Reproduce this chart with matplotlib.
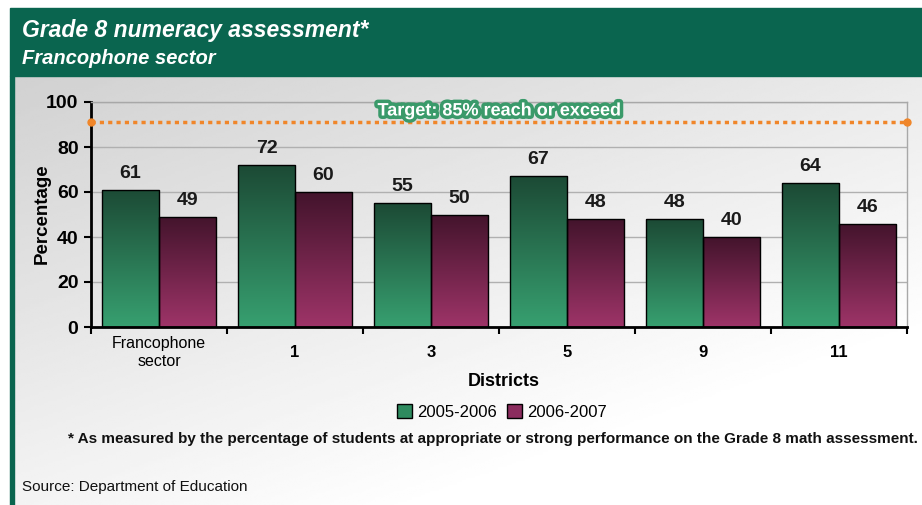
import numpy as np
import matplotlib
matplotlib.use("Agg")
import matplotlib.pyplot as plt
from matplotlib.patches import Rectangle, Patch
from matplotlib.colors import LinearSegmentedColormap
import matplotlib.patheffects as pe

categories = ["Francophone\nsector", "1", "3", "5", "9", "11"]
series_names = ["2005-2006", "2006-2007"]
values_2005 = [61, 72, 55, 67, 48, 64]
values_2006 = [49, 60, 50, 48, 40, 46]
target_value = 91  # drawn position of the target line in the picture
target_label = "Target: 85% reach or exceed"
yticks = [0, 20, 40, 60, 80, 100]

title = "Grade 8 numeracy assessment*"
subtitle = "Francophone sector"
footnote = "* As measured by the percentage of students at appropriate or strong performance on the Grade 8 math assessment."
source = "Source: Department of Education"

plt.rcParams['font.family'] = ['Liberation Sans', 'DejaVu Sans']

W, H = 922, 505
fig = plt.figure(figsize=(W / 100, H / 100), dpi=100)
fig.patch.set_facecolor("white")

def fx(px):
    return px / W

def fy(py):
    return 1 - py / H

header_col = "#0a654f"
# background panel gradient
bg = fig.add_axes([fx(14), 0, fx(922) - fx(14), fy(76)], zorder=-10)
gx = np.linspace(0, 1, 200)
gy = np.linspace(0, 1, 200)
GX, GY = np.meshgrid(gx, gy)
shade = 0.82 + 0.18 * np.clip(0.55 * GX + 0.75 * GY, 0, 1)
bg.imshow(shade, cmap="gray", vmin=0, vmax=1, aspect="auto", origin="upper",
          extent=[0, 1, 0, 1])
bg.set_axis_off()

fig.patches.append(Rectangle((fx(10), fy(76)), 1 - fx(10), fy(8) - fy(76),
                             transform=fig.transFigure, color=header_col, zorder=-5))
fig.patches.append(Rectangle((fx(10), 0), fx(14) - fx(10), fy(76),
                             transform=fig.transFigure, color=header_col, zorder=-5))

fig.text(fx(22), fy(31), title, color="white", fontsize=16.5, fontweight="bold",
         fontstyle="italic", va="center", ha="left")
fig.text(fx(22), fy(58), subtitle, color="white", fontsize=14.5, fontweight="bold",
         fontstyle="italic", va="center", ha="left")

ax = fig.add_axes([fx(91), fy(327), fx(907) - fx(91), fy(102) - fy(327)])
ax.set_facecolor("none")
x = np.arange(len(categories))
bw = 0.42
green_cmap = LinearSegmentedColormap.from_list("g", ["#37a070", "#1c4a35"])
maroon_cmap = LinearSegmentedColormap.from_list("m", ["#9e3468", "#43142c"])

bars1 = ax.bar(x - bw / 2, values_2005, bw, facecolor="none", edgecolor="black",
               linewidth=1.0, zorder=3)
bars2 = ax.bar(x + bw / 2, values_2006, bw, facecolor="none", edgecolor="black",
               linewidth=1.0, zorder=3)
grad = np.linspace(0, 1, 256).reshape(-1, 1)
for bars, cmap in ((bars1, green_cmap), (bars2, maroon_cmap)):
    for b in bars:
        x0, y0 = b.get_x(), b.get_y()
        w, h = b.get_width(), b.get_height()
        im = ax.imshow(grad, cmap=cmap, aspect="auto", origin="lower",
                       extent=[x0, x0 + w, y0, y0 + h], zorder=2)
        im.set_clip_path(b)

for bars, vals in ((bars1, values_2005), (bars2, values_2006)):
    for b, v in zip(bars, vals):
        ax.text(b.get_x() + b.get_width() / 2, v + 3.5, f"{v}", ha="center",
                va="bottom", fontsize=14, fontweight="bold", color="#1a1a1a",
                fontstretch="condensed", family=["Liberation Sans Narrow", "Liberation Sans"])

ax.set_xlim(-0.5, len(categories) - 0.5)
ax.set_ylim(0, 100)
ax.set_yticks(yticks)
ax.set_yticklabels([str(t) for t in yticks], fontsize=14, fontweight="bold")
ax.yaxis.grid(True, color="#b0b0b0", linewidth=1.0, zorder=0)
ax.set_axisbelow(True)
ax.tick_params(axis="y", length=5, width=1.5, direction="out", pad=4)

ax.set_xticks(np.arange(len(categories) + 1) - 0.5, minor=False)
ax.set_xticklabels([])
ax.set_xticks(x, minor=True)
ax.set_xticklabels(categories, minor=True)
for i, lbl in enumerate(ax.get_xticklabels(minor=True)):
    lbl.set_verticalalignment("center")
    if i == 0:
        lbl.set_fontsize(11.5)
        lbl.set_fontweight("normal")
    else:
        lbl.set_fontsize(12)
        lbl.set_fontweight("bold")
ax.tick_params(axis="x", which="major", length=5, width=1.5, direction="out")
ax.tick_params(axis="x", which="minor", length=0, pad=18.5)

for s in ("left", "bottom"):
    ax.spines[s].set_linewidth(2.0)
    ax.spines[s].set_color("black")
for s in ("top", "right"):
    ax.spines[s].set_linewidth(1.0)
    ax.spines[s].set_color("#a8a8a8")

fig.text(fx(42), fy(214), "Percentage", rotation=90, ha="center", va="center",
         fontsize=13.5, fontweight="bold")
fig.text(fx(504), fy(382), "Districts", ha="center", va="center",
         fontsize=13, fontweight="bold")

# target line
ax.plot([-0.5, len(categories) - 0.5], [target_value, target_value], color="#f0862a",
        linestyle=(0, (1.2, 1.2)), linewidth=2.5, zorder=4, clip_on=False)
ax.plot([-0.5, len(categories) - 0.5], [target_value, target_value], "o",
        color="#f0862a", markersize=5, zorder=5, clip_on=False)
ax.text(2.5, target_value + 5, target_label, ha="center", va="center",
        fontsize=13, fontweight="bold", color="white", zorder=6,
        path_effects=[pe.Stroke(linewidth=5, foreground="#3a9a6a"), pe.Normal()])

handles = [Patch(facecolor="#2e8b5f", edgecolor="black", label=series_names[0]),
           Patch(facecolor="#8b2c5e", edgecolor="black", label=series_names[1])]
fig.legend(handles=handles, loc="center", bbox_to_anchor=(fx(502), fy(412)), ncol=2,
           frameon=False, fontsize=12, handlelength=0.9, handleheight=0.9,
           handletextpad=0.3, columnspacing=0.6, borderaxespad=0)

fig.text(fx(918), fy(439), footnote, ha="right", va="center", fontsize=11,
         fontweight="bold", color="#111111")
fig.text(fx(22), fy(487), source, ha="left", va="center", fontsize=11,
         color="#111111")

fig.savefig("out.png", dpi=100)
